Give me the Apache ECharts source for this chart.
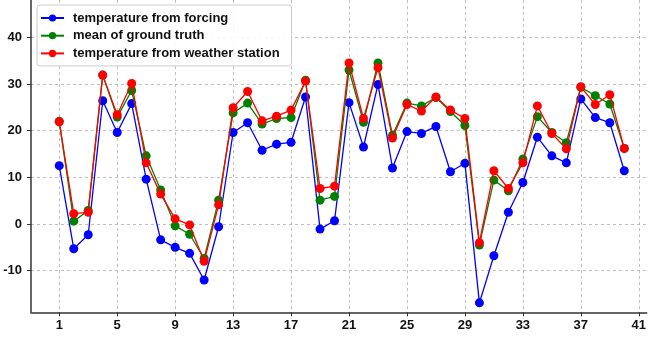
<!DOCTYPE html>
<html>
<head>
<meta charset="utf-8">
<script src="https://cdn.jsdelivr.net/npm/echarts@6/dist/echarts.min.js"></script>
<style>html,body{margin:0;padding:0;background:#fff}#c{width:649px;height:339px}</style>
</head>
<body>
<div id="c"></div>
<script>
var days = [1,2,3,4,5,6,7,8,9,10,11,12,13,14,15,16,17,18,19,20,21,22,23,24,25,26,27,28,29,30,31,32,33,34,35,36,37,38,39,40];
var forcing = [12.5,-5.3,-2.3,26.4,19.6,25.8,9.6,-3.4,-5.0,-6.3,-12.0,-0.6,19.6,21.7,15.8,17.1,17.5,27.2,-1.1,0.7,26.0,16.5,29.9,12.0,19.8,19.4,20.9,11.2,13.0,-16.9,-6.8,2.5,8.9,18.6,14.6,13.1,26.8,22.8,21.7,11.4];
var groundTruth = [22.0,0.6,2.9,31.9,22.9,28.6,14.6,7.3,-0.4,-2.2,-7.4,5.1,23.8,25.9,21.4,22.6,22.8,30.8,5.1,5.9,33.0,21.8,34.5,19.0,25.9,25.3,27.1,24.1,21.1,-4.5,9.4,7.1,13.9,23.0,19.6,17.4,29.3,27.5,25.7,16.2];
var station = [21.9,2.2,2.5,31.9,23.4,30.1,13.1,6.4,1.1,-0.2,-8.0,4.1,24.9,28.4,22.1,23.1,24.4,30.6,7.6,8.1,34.5,22.6,33.5,18.4,25.6,24.2,27.2,24.4,22.6,-4.0,11.4,7.6,13.1,25.3,19.4,16.1,29.4,25.6,27.7,16.2];
var xTicks = [1,5,9,13,17,21,25,29,33,37,41];
var yTicks = [-10,0,10,20,30,40];
var names = ['temperature from forcing','mean of ground truth','temperature from weather station'];
var colors = ['#0000ff','#008000','#ff0000'];

function pairs(vals){ return days.map(function(d,i){ return [d, vals[i]]; }); }

var font = {fontFamily:'Liberation Sans, Arial, sans-serif', fontWeight:'bold', fontSize:13, color:'#111'};
var gridLine = {show:true, lineStyle:{color:'#b0b0b0', type:[3,3], width:0.8}};

function mkSeries(i, vals){
  return {type:'line', name:names[i], data:pairs(vals), symbol:'circle', symbolSize:9,
    itemStyle:{color:colors[i]}, lineStyle:{color:colors[i], width:1.3}, z:2+i, animation:false};
}

var chart = echarts.init(document.getElementById('c'), null, {renderer:'canvas'});
chart.setOption({
  animation:false,
  grid:{left:31, right:0, top:0, bottom:26.7, containLabel:false},
  legend:{orient:'vertical', left:37, top:5, padding:[5.5,12,5,3], itemGap:2.7, itemWidth:23, itemHeight:9,
    backgroundColor:'rgba(255,255,255,0.85)', borderColor:'#cccccc', borderWidth:1, borderRadius:3,
    textStyle:{fontFamily:font.fontFamily, fontWeight:'bold', fontSize:13, color:'#111', lineHeight:15, padding:[0,0,0,4]},
    data:names},
  xAxis:{type:'value', min:-0.95, max:41.55,
    axisLine:{show:true, onZero:false, lineStyle:{color:'#333', width:1.5}},
    axisTick:{show:true, length:4, customValues:xTicks, lineStyle:{color:'#333', width:1}},
    axisLabel:Object.assign({margin:7, customValues:xTicks}, font),
    splitLine:gridLine},
  yAxis:{type:'value', min:-18.93, max:48,
    axisLine:{show:true, onZero:false, lineStyle:{color:'#333', width:1.5}},
    axisTick:{show:true, length:4, customValues:yTicks, lineStyle:{color:'#333', width:1}},
    axisLabel:Object.assign({margin:9, customValues:yTicks}, font),
    splitLine:gridLine},
  series:[mkSeries(0, forcing), mkSeries(1, groundTruth), mkSeries(2, station)]
});
</script>
</body>
</html>
